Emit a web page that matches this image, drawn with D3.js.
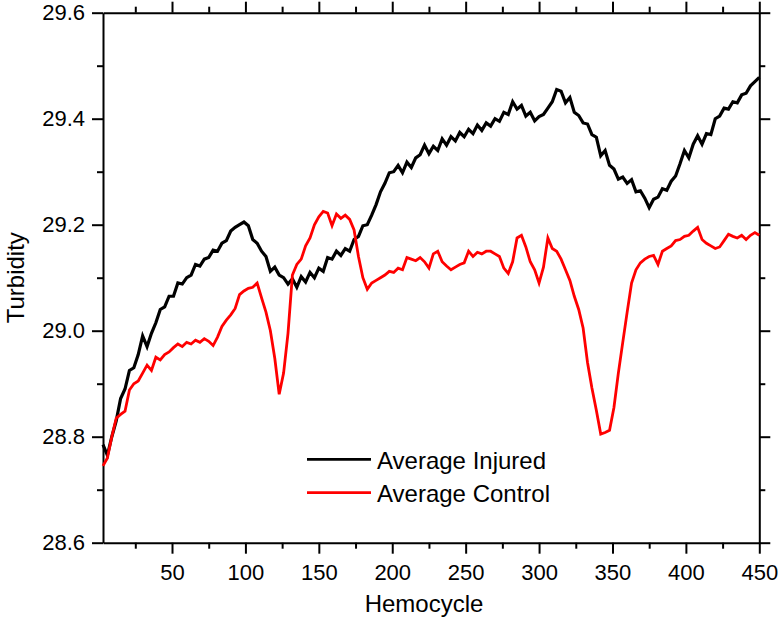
<!DOCTYPE html>
<html>
<head>
<meta charset="utf-8">
<script src="https://cdn.jsdelivr.net/npm/d3@7"></script>
<style>
  html, body { margin: 0; padding: 0; background: #fff; }
  svg { display: block; }
  text { font-family: "Liberation Sans", Arial, Helvetica, sans-serif; fill: #000; }
</style>
</head>
<body>
<svg id="chart" width="780" height="622"></svg>
<script>
const cycles = [
  3,6,9,12,15,18,21,24,27,30,
  33,36,39,42,45,48,51,54,57,60,
  63,66,69,72,75,78,81,84,87,90,
  93,96,99,102,105,108,111,114,117,120,
  123,126,129,132,135,138,141,144,147,150,
  153,156,159,162,165,168,171,174,177,180,
  183,186,189,192,195,198,201,204,207,210,
  213,216,219,222,225,228,231,234,237,240,
  243,246,249,252,255,258,261,264,267,270,
  273,276,279,282,285,288,291,294,297,300,
  303,306,309,312,315,318,321,324,327,330,
  333,336,339,342,345,348,351,354,357,360,
  363,366,369,372,375,378,381,384,387,390,
  393,396,399,402,405,408,411,414,417,420,
  423,426,429,432,435,438,441,444,447,450
];
const injured = [
  28.785,28.765,28.800,28.830,28.872,28.890,28.925,28.930,28.955,28.990,
  28.970,28.995,29.015,29.040,29.045,29.065,29.065,29.090,29.088,29.100,
  29.105,29.125,29.122,29.135,29.138,29.152,29.150,29.165,29.170,29.188,
  29.195,29.200,29.205,29.198,29.172,29.165,29.150,29.140,29.112,29.120,
  29.105,29.100,29.088,29.098,29.082,29.102,29.092,29.110,29.100,29.118,
  29.112,29.138,29.135,29.150,29.142,29.155,29.150,29.172,29.178,29.198,
  29.200,29.218,29.238,29.262,29.278,29.298,29.300,29.312,29.298,29.318,
  29.308,29.326,29.332,29.350,29.334,29.348,29.340,29.362,29.350,29.366,
  29.358,29.374,29.366,29.380,29.372,29.388,29.378,29.392,29.386,29.400,
  29.395,29.412,29.408,29.432,29.418,29.425,29.405,29.412,29.396,29.404,
  29.408,29.420,29.432,29.455,29.452,29.430,29.440,29.412,29.406,29.392,
  29.390,29.370,29.365,29.330,29.340,29.312,29.305,29.286,29.290,29.278,
  29.285,29.262,29.264,29.250,29.232,29.248,29.252,29.268,29.265,29.282,
  29.292,29.315,29.340,29.326,29.352,29.368,29.352,29.372,29.370,29.400,
  29.405,29.420,29.418,29.432,29.430,29.445,29.448,29.462,29.470,29.478
];
const control = [
  28.745,28.760,28.800,28.835,28.842,28.848,28.888,28.900,28.905,28.920,
  28.935,28.925,28.950,28.945,28.955,28.960,28.968,28.975,28.970,28.978,
  28.975,28.982,28.978,28.985,28.980,28.972,28.988,29.008,29.020,29.030,
  29.042,29.068,29.075,29.080,29.082,29.090,29.062,29.035,29.000,28.948,
  28.880,28.920,28.995,29.105,29.125,29.135,29.160,29.175,29.200,29.215,
  29.225,29.222,29.198,29.220,29.212,29.218,29.210,29.190,29.140,29.100,
  29.078,29.090,29.095,29.100,29.105,29.112,29.110,29.118,29.115,29.138,
  29.135,29.132,29.138,29.130,29.118,29.145,29.150,29.130,29.122,29.115,
  29.120,29.125,29.128,29.150,29.140,29.148,29.145,29.150,29.150,29.145,
  29.140,29.118,29.108,29.130,29.175,29.180,29.158,29.130,29.115,29.090,
  29.120,29.175,29.155,29.150,29.135,29.115,29.095,29.065,29.040,29.005,
  28.940,28.892,28.850,28.805,28.808,28.812,28.855,28.920,28.978,29.035,
  29.090,29.115,29.128,29.135,29.140,29.142,29.125,29.150,29.155,29.160,
  29.170,29.172,29.178,29.180,29.188,29.195,29.172,29.165,29.160,29.155,
  29.158,29.170,29.182,29.178,29.175,29.180,29.172,29.180,29.185,29.180
];
const seriesNames = ["Average Injured", "Average Control"];
const seriesColors = ["#000000", "#ff0000"];
const seriesWidths = [3.2, 2.8];
const xMajorTicks = [50,100,150,200,250,300,350,400,450];
const xMinorTicks = [25,75,125,175,225,275,325,375,425];
const yMajorTicks = [28.6,28.8,29.0,29.2,29.4,29.6];
const yMinorTicks = [28.7,28.9,29.1,29.3,29.5];
const xTitle = "Hemocycle";
const yTitle = "Turbidity";

const L = 103, R = 759.3, T = 12.7, B = 542.7;
const svg = d3.select("#chart");
const x = d3.scaleLinear().domain([3, 450]).range([L, R]);
const y = d3.scaleLinear().domain([28.6, 29.6]).range([B, T]);

const axisStyle = g => {
  g.selectAll("path.domain").attr("stroke", "#000").attr("stroke-width", 2);
  g.selectAll(".tick line").attr("stroke", "#000").attr("stroke-width", 2);
};

// bottom axis
const gB = svg.append("g").attr("transform", `translate(0,${B})`);
gB.call(d3.axisBottom(x).tickValues(xMajorTicks).tickSize(11).tickSizeOuter(0).tickPadding(11).tickFormat(d3.format("d")));
gB.call(axisStyle);
gB.selectAll(".tick text").attr("font-size", 22).attr("font-family", "Liberation Sans, Arial, sans-serif").attr("fill", "#000");
svg.append("g").attr("transform", `translate(0,${B})`)
  .call(d3.axisBottom(x).tickValues(xMinorTicks).tickSize(6).tickSizeOuter(0).tickFormat(""))
  .call(g => g.select("path.domain").remove()).call(axisStyle);

// top axis
svg.append("g").attr("transform", `translate(0,${T})`)
  .call(d3.axisTop(x).tickValues(xMajorTicks).tickSize(11).tickSizeOuter(0).tickFormat("")).call(axisStyle);
svg.append("g").attr("transform", `translate(0,${T})`)
  .call(d3.axisTop(x).tickValues(xMinorTicks).tickSize(6).tickSizeOuter(0).tickFormat(""))
  .call(g => g.select("path.domain").remove()).call(axisStyle);

// left axis
const gL = svg.append("g").attr("transform", `translate(${L},0)`);
gL.call(d3.axisLeft(y).tickValues(yMajorTicks).tickSize(11).tickSizeOuter(0).tickPadding(7).tickFormat(d3.format(".1f")));
gL.call(axisStyle);
gL.selectAll(".tick text").attr("font-size", 22).attr("font-family", "Liberation Sans, Arial, sans-serif").attr("fill", "#000");
svg.append("g").attr("transform", `translate(${L},0)`)
  .call(d3.axisLeft(y).tickValues(yMinorTicks).tickSize(6).tickSizeOuter(0).tickFormat(""))
  .call(g => g.select("path.domain").remove()).call(axisStyle);

// right axis
svg.append("g").attr("transform", `translate(${R},0)`)
  .call(d3.axisRight(y).tickValues(yMajorTicks).tickSize(11).tickSizeOuter(0).tickFormat("")).call(axisStyle);
svg.append("g").attr("transform", `translate(${R},0)`)
  .call(d3.axisRight(y).tickValues(yMinorTicks).tickSize(6).tickSizeOuter(0).tickFormat(""))
  .call(g => g.select("path.domain").remove()).call(axisStyle);

// series
const line = d3.line().x(d => x(d[0])).y(d => y(d[1]));
[injured, control].forEach((vals, i) => {
  svg.append("path")
    .datum(cycles.map((c, k) => [c, vals[k]]))
    .attr("fill", "none")
    .attr("stroke", seriesColors[i])
    .attr("stroke-width", seriesWidths[i])
    .attr("stroke-linejoin", "miter")
    .attr("d", line);
});

// legend
const legY = [459.3, 492.7];
seriesNames.forEach((name, i) => {
  svg.append("line").attr("x1", 307).attr("x2", 371).attr("y1", legY[i]).attr("y2", legY[i])
    .attr("stroke", seriesColors[i]).attr("stroke-width", 2.7);
  svg.append("text").attr("x", 377).attr("y", legY[i] + 9.3).attr("font-size", 24).text(name);
});

// titles
svg.append("text").attr("x", 424).attr("y", 612).attr("text-anchor", "middle").attr("font-size", 24).text(xTitle);
svg.append("text").attr("transform", `translate(24,${(T + B) / 2}) rotate(-90)`)
  .attr("text-anchor", "middle").attr("font-size", 24).text(yTitle);
</script>
</body>
</html>
